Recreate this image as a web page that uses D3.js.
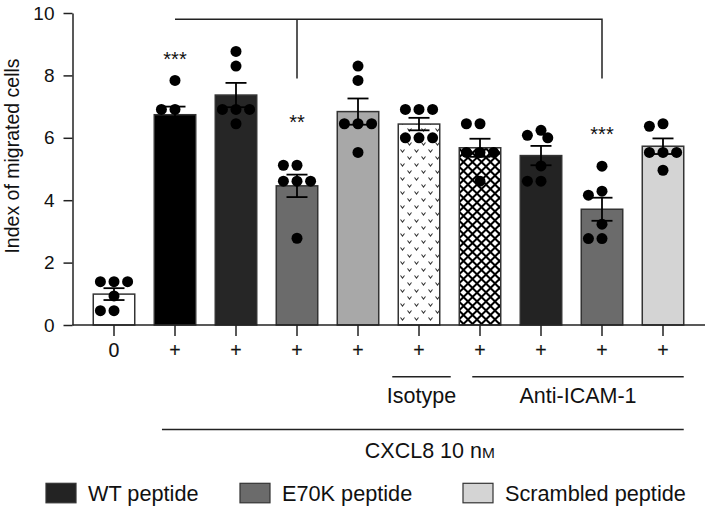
<!DOCTYPE html>
<html><head><meta charset="utf-8">
<script src="https://cdn.jsdelivr.net/npm/d3@7"></script>
<style>
body{margin:0;background:#fff}
svg{display:block}
text{font-family:"Liberation Sans",Arial,Helvetica,sans-serif;fill:#111}
</style>
</head><body>
<svg id="chart" width="709" height="506"></svg>
<script>
// ---------------- data ----------------
const categories = ["0","+","+","+","+","+","+","+","+","+"];
const means = [0.99, 6.74, 7.37, 4.46, 6.84, 6.44, 5.68, 5.43, 3.71, 5.73];
const sems  = [0.19, 0.26, 0.39, 0.36, 0.42, 0.20, 0.29, 0.31, 0.37, 0.25];
const dots = [
  [1.39, 1.39, 1.39, 0.93, 0.46, 0.46],
  [7.84, 6.91, 6.91, 6.50, 6.20, 6.00],
  [8.77, 8.30, 6.91, 6.91, 6.91, 6.45],
  [5.12, 5.12, 4.61, 4.61, 4.61, 2.78],
  [8.30, 7.84, 6.45, 6.45, 6.45, 5.53],
  [6.91, 6.91, 6.91, 6.00, 6.00, 6.00],
  [6.45, 6.45, 5.53, 5.53, 5.53, 4.61],
  [6.24, 6.08, 6.00, 5.10, 4.61, 4.61],
  [5.09, 4.29, 4.16, 3.23, 2.77, 2.77],
  [6.45, 6.37, 5.53, 5.53, 5.53, 4.96]
];
const yTicks = [0, 2, 4, 6, 8, 10];
const yTitle = "Index of migrated cells";
const sigIndex = [1, 3, 8];
const sigLabel = ["***", "**", "***"];
const sigValue = [8.3, 6.29, 5.9];
const bracketFrom = 1, bracketDrops = [3, 8], bracketTop = 9.8, bracketBottom = 7.9;
const groupLabels = ["Isotype", "Anti-ICAM-1"];
const groupFrom = [5, 6];
const groupTo = [5, 9];
const treatmentLabel = "CXCL8 10 n";
const treatmentUnit = "M";
const treatmentFrom = 1, treatmentTo = 9;
const legendLabels = ["WT peptide", "E70K peptide", "Scrambled peptide"];

// ---------------- styles ----------------
const barFill = ["#ffffff","#000000","#262626","#6b6b6b","#a8a8a8","url(#iso)","url(#check)","#232323","#6b6b6b","#d4d4d4"];
const legendFill = ["#232323","#6b6b6b","#d4d4d4"];
const ink = "#222";

// ---------------- layout ----------------
const svg = d3.select("#chart");
const y = d3.scaleLinear().domain([0, 10]).range([325, 13]);
const x = d3.scaleBand().domain(d3.range(categories.length))
  .range([83.5, 693.5]).paddingInner(0.32).paddingOuter(0.16);
const bw = x.bandwidth();
const cx = i => x(i) + bw / 2;
const axisX0 = 72.5, axisX1 = 705;

// patterns
const defs = svg.append("defs");
const iso = defs.append("pattern").attr("id","iso").attr("patternUnits","userSpaceOnUse")
  .attr("width",14).attr("height",14);
iso.append("rect").attr("width",14).attr("height",14).attr("fill","#fff");
[[3.5,3.5],[10.5,10.5]].forEach(([px,py])=>{
  iso.append("path").attr("d",`M${px-2},${py-1} L${px},${py+1.5} L${px+2},${py-1}`)
    .attr("fill","none").attr("stroke","#333").attr("stroke-width",1.1);
});
const chk = defs.append("pattern").attr("id","check").attr("patternUnits","userSpaceOnUse")
  .attr("width",9).attr("height",9);
chk.append("rect").attr("width",9).attr("height",9).attr("fill","#000");
[[4.5,4.5],[0,0],[9,0],[0,9],[9,9]].forEach(([px,py])=>{
  const r = 3.1;
  chk.append("path").attr("d",`M${px},${py-r} L${px+r},${py} L${px},${py+r} L${px-r},${py} Z`).attr("fill","#fff");
});

// bars
svg.append("g").selectAll("rect").data(means).join("rect")
  .attr("x",(d,i)=>x(i)).attr("width",bw)
  .attr("y",d=>y(d)).attr("height",d=>y(0)-y(d))
  .attr("fill",(d,i)=>barFill[i]).attr("stroke","#333").attr("stroke-width",1.5);

// error bars
const eb = svg.append("g").attr("stroke","#000").attr("stroke-width",1.8).attr("fill","none");
means.forEach((m,i)=>{
  const c = cx(i), hw = 10.5;
  eb.append("line").attr("x1",c).attr("x2",c).attr("y1",y(m-sems[i])).attr("y2",y(m+sems[i]));
  eb.append("line").attr("x1",c-hw).attr("x2",c+hw).attr("y1",y(m+sems[i])).attr("y2",y(m+sems[i]));
  eb.append("line").attr("x1",c-hw).attr("x2",c+hw).attr("y1",y(m-sems[i])).attr("y2",y(m-sems[i]));
});

// dots (simple beeswarm)
function swarm(vals, c){
  const placed = [], step = 6.8, minD = 10;
  vals.slice().sort((a,b)=>b-a).forEach(v=>{
    const py = y(v);
    for(let k=0;k<30;k++){
      const off = k===0 ? 0 : (k%2 ? -1 : 1) * Math.ceil(k/2) * step;
      if(placed.every(p=>Math.hypot(p.x-(c+off), p.y-py) >= minD)){ placed.push({x:c+off,y:py}); break; }
    }
  });
  return placed;
}
const dg = svg.append("g");
dots.forEach((vals,i)=>{
  dg.selectAll(null).data(swarm(vals, cx(i))).join("circle")
    .attr("cx",d=>d.x).attr("cy",d=>d.y).attr("r",5.5).attr("fill","#000");
});

// y axis
const yAxis = svg.append("g").attr("transform",`translate(${axisX0},0)`)
  .call(d3.axisLeft(y).tickValues(yTicks).tickFormat(d3.format("d")).tickSize(9).tickPadding(9).tickSizeOuter(0));
yAxis.selectAll("path,line").attr("stroke",ink).attr("stroke-width",1.5);
yAxis.selectAll("text").attr("font-size",19).attr("fill","#111")
  .style("font-family",'"Liberation Sans",Arial,sans-serif');

// x axis
const xAxis = svg.append("g").attr("transform",`translate(0,${y(0)})`)
  .call(d3.axisBottom(x).tickFormat(i=>categories[i]).tickSize(11).tickPadding(7.3));
xAxis.select(".domain").remove();
xAxis.selectAll("line").attr("stroke",ink).attr("stroke-width",1.5);
xAxis.selectAll("text").attr("font-size",19.5).attr("fill","#111")
  .attr("stroke","#111").attr("stroke-width",0.15)
  .style("font-family",'"Liberation Sans",Arial,sans-serif');
svg.append("line").attr("x1",axisX0).attr("x2",axisX1).attr("y1",y(0)).attr("y2",y(0))
  .attr("stroke",ink).attr("stroke-width",1.5);

// y title
svg.append("text").attr("transform","rotate(-90)")
  .attr("x",-156).attr("y",18.5).attr("text-anchor","middle").attr("font-size",19.5)
  .text(yTitle);

// significance bracket
const bp = d3.path();
bp.moveTo(cx(bracketFrom), y(bracketTop));
bp.lineTo(cx(bracketDrops[1]), y(bracketTop));
bp.lineTo(cx(bracketDrops[1]), y(bracketBottom));
bp.moveTo(cx(bracketDrops[0]), y(bracketTop));
bp.lineTo(cx(bracketDrops[0]), y(bracketBottom));
svg.append("path").attr("d",bp.toString()).attr("fill","none").attr("stroke",ink).attr("stroke-width",1.5);

svg.append("g").selectAll("text").data(sigIndex).join("text")
  .attr("x",d=>cx(d)).attr("y",(d,i)=>y(sigValue[i])).attr("text-anchor","middle")
  .attr("font-size",20).text((d,i)=>sigLabel[i]);

// group lines & labels
const groupPadL = [-6, 13], groupPadR = [11, 0];
const gl = svg.append("g");
groupLabels.forEach((lab,i)=>{
  const x1 = x(groupFrom[i]) + groupPadL[i], x2 = x(groupTo[i]) + bw + groupPadR[i];
  gl.append("line").attr("x1",x1).attr("x2",x2).attr("y1",376.7).attr("y2",376.7)
    .attr("stroke",ink).attr("stroke-width",1.5);
  gl.append("text").attr("x",(x1+x2)/2).attr("y",403.3).attr("text-anchor","middle")
    .attr("font-size",21.5).text(lab);
});
{
  const x1 = x(treatmentFrom) + 7.7, x2 = x(treatmentTo) + bw;
  gl.append("line").attr("x1",x1).attr("x2",x2).attr("y1",429.5).attr("y2",429.5)
    .attr("stroke",ink).attr("stroke-width",1.5);
  const t = gl.append("text").attr("x",(x1+x2)/2 + 7).attr("y",457.5).attr("text-anchor","middle")
    .attr("font-size",21.5);
  t.append("tspan").text(treatmentLabel);
  t.append("tspan").attr("font-size",15.5).text(treatmentUnit);
}

// legend
const legX = [46, 240, 463];
const lg = svg.append("g");
legendLabels.forEach((lab,i)=>{
  lg.append("rect").attr("x",legX[i]).attr("y",483.3).attr("width",30).attr("height",19.5)
    .attr("fill",legendFill[i]).attr("stroke","#333").attr("stroke-width",1.2);
  lg.append("text").attr("x",legX[i]+42).attr("y",501).attr("font-size",21.7).text(lab);
});
</script>
</body></html>
